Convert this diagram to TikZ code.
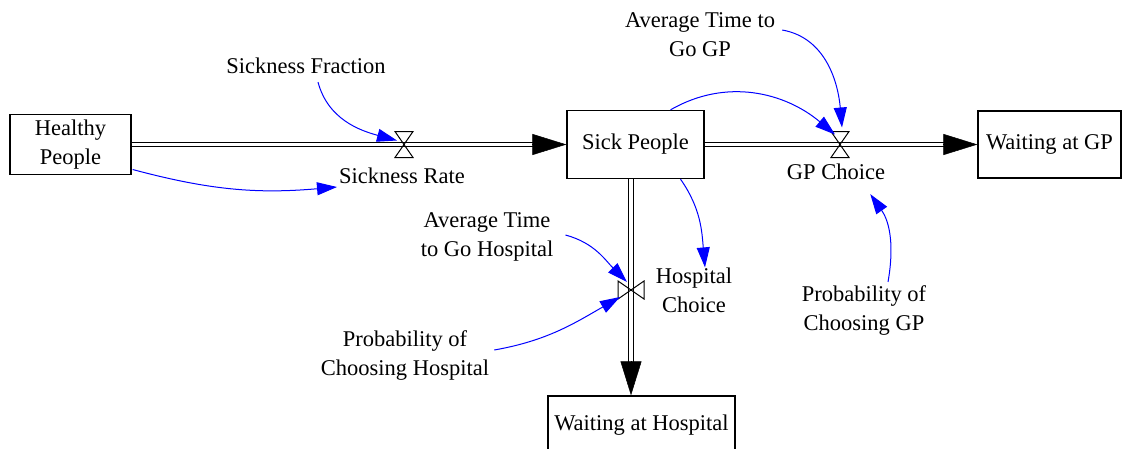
\documentclass[tikz,border=0pt]{standalone}
\usepackage{fontspec}
\setmainfont{Liberation Serif}
\newfontfamily\diagfont{Liberation Serif}
\usetikzlibrary{arrows.meta, calc}

\tikzset{
  stock/.style={draw, line width=1.3pt, align=center, inner sep=0pt, font=\diagfont\fontsize{22.5}{29}\selectfont},
  lbl/.style={align=center, inner sep=0pt, font=\diagfont\fontsize{22.5}{29}\selectfont},
  pipe/.style={double, double distance=3.5pt, line width=1.1pt},
  pipehead/.style={-{Triangle[length=34pt, width=21pt]}, line width=0.5pt},
  link/.style={blue, line width=1pt, -{Triangle[length=20pt, width=13pt]}},
  valve/.pic={\draw[line width=1pt] (-9,-13) -- (9,-13) -- (-9,13) -- (9,13) -- cycle;}
}

\begin{document}
\begin{tikzpicture}[x=1pt, y=-1pt]
  \useasboundingbox (0,0) rectangle (1126,448);
  \clip (0,0) rectangle (1126,448);

  % stocks
  \node[stock, minimum width=121, minimum height=60] (hp) at (70.5,144.5) {Healthy\\People};
  \node[stock, minimum width=137, minimum height=68] (sp) at (635.5,144.5) {Sick People};
  \node[stock, minimum width=143, minimum height=67] (wg) at (1049.5,144.5) {Waiting at GP};
  \node[stock, minimum width=187, minimum height=58] (wh) at (641.5,425) {Waiting at Hospital};

  % valves
  \coordinate (sr) at (404,144.5);
  \coordinate (gpc) at (840,144.5);
  \coordinate (hc) at (631,290);

  % flows
  \draw[pipe] (hp.east) -- ([xshift=-30pt]sp.west);
  \draw[pipehead] ([xshift=-34pt]sp.west) -- (sp.west);
  \draw[pipe] (sp.east) -- ([xshift=-30pt]wg.west);
  \draw[pipehead] ([xshift=-34pt]wg.west) -- (wg.west);
  \coordinate (ht) at (hc |- sp.south);
  \coordinate (hb) at (hc |- wh.north);
  \draw[pipe] (ht) -- ([yshift=30pt]hb);
  \draw[pipehead] ([yshift=34pt]hb) -- (hb);

  \pic at (sr) {valve};
  \pic at (gpc) {valve};
  \pic[rotate=90] at (hc) {valve};

  % auxiliaries
  \node[lbl] (sf) at (306,66) {Sickness Fraction};
  \node[lbl] (srl) at (402,176) {Sickness Rate};
  \node[lbl] (atg) at (700,35) {Average Time to\\Go GP};
  \node[lbl] (gcl) at (836,172) {GP Choice};
  \node[lbl] (pcg) at (864,310) {Probability of\\Choosing GP};
  \node[lbl] (hcl) at (694,290) {Hospital\\Choice};
  \node[lbl] (ath) at (487,237) {Average Time\\to Go Hospital};
  \node[lbl] (pch) at (405,355) {Probability of\\Choosing Hospital};

  % links
  \draw[link] ([shift={(12pt,-8pt)}]sf.south) to[out=-75, in=165] ([shift={(-7pt,4pt)}]sr);
  \draw[link] ([shift={(1pt,-25pt)}]hp.east) to[out=-15, in=185] ([shift={(-2pt,-11pt)}]srl.west);
  \draw[link] ([xshift=35pt]sp.north) to[out=30, in=140] ([shift={(-5pt,10pt)}]gpc);
  \draw[link] ([shift={(7pt,5pt)}]atg.east) to[out=-10, in=95] ([shift={(2pt,17pt)}]gpc);
  \draw[link] ([shift={(24pt,3pt)}]pcg.north) to[out=80, in=-55] ([shift={(-15pt,-14pt)}]gcl.south east);
  \draw[link] ([xshift=45pt]sp.south) to[out=-55, in=95] ([xshift=11pt]hcl.north);
  \draw[link] ([shift={(12pt,2pt)}]ath.east) to[out=-15, in=135] ([shift={(-4pt,8pt)}]hc);
  \draw[link] ([shift={(5pt,5pt)}]pch.east) to[out=10, in=210] ([shift={(-11pt,-7pt)}]hc);
\end{tikzpicture}
\end{document}
